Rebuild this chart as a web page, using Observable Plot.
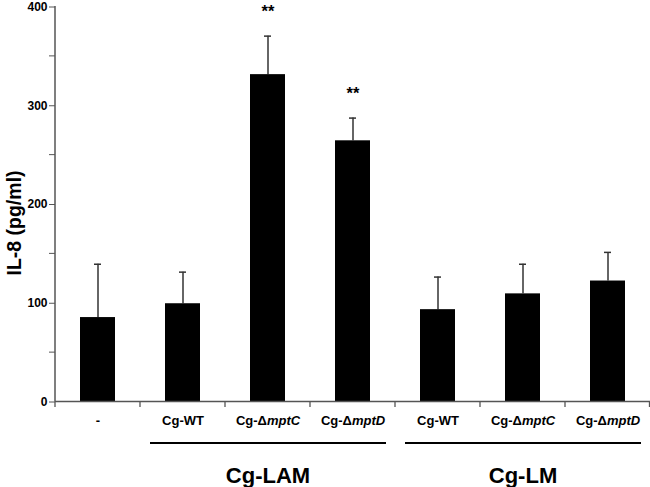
<!DOCTYPE html>
<html><head><meta charset="utf-8">
<script src="https://cdn.jsdelivr.net/npm/d3@7"></script>
<script src="https://cdn.jsdelivr.net/npm/@observablehq/plot@0.6"></script>
<style>body{margin:0;background:#fff}</style>
</head><body><div id="chart"></div>
<script>
// Categories (unique keys) and their tick labels
const keys = ["none", "LAM-WT", "LAM-C", "LAM-D", "LM-WT", "LM-C", "LM-D"];
const labelPlain = ["-", "Cg-WT", "Cg-\u0394", "Cg-\u0394", "Cg-WT", "Cg-\u0394", "Cg-\u0394"];
const labelItalic = ["", "", "mptC", "mptD", "", "mptC", "mptD"];
// IL-8 (pg/ml) means and upper error (SD)
const values = [85, 99, 331, 264, 93, 109, 122];
const errors = [54, 32, 39, 23, 33, 30, 29];
const stars = ["", "", "**", "**", "", "", ""];
// Group brackets
const groupNames = ["Cg-LAM", "Cg-LM"];
const groupFirst = ["LAM-WT", "LM-WT"];
const groupCenter = ["LAM-C", "LM-C"];
const groupLast = ["LAM-D", "LM-D"];
const yTicks = [0, 100, 200, 300, 400];
const yMinor = [50, 150, 250, 350];
const yLabel = "IL-8 (pg/ml)";

const data = keys.map((k, i) => ({key: k, value: values[i], err: errors[i], top: values[i] + errors[i], label: labelPlain[i] + labelItalic[i], star: stars[i]}));
const groups = groupNames.map((g, i) => ({name: g, center: groupCenter[i]}));

const chart = Plot.plot({
  width: 650, height: 487,
  marginLeft: 55, marginRight: 0, marginTop: 6, marginBottom: 86,
  style: {fontFamily: "'Liberation Sans', Arial, sans-serif", fontWeight: "bold", background: "#fff", overflow: "visible"},
  x: {domain: keys, padding: 0, axis: null},
  y: {domain: [0, 400], axis: null},
  marks: [
    Plot.axisY({ticks: yTicks, tickSize: 6, tickPadding: 2, fontSize: 12, label: null, stroke: "#555", dy: 0.5}),
    Plot.axisY({ticks: yMinor, tickSize: 6, tickFormat: () => "", label: null, stroke: "#555"}),
    Plot.ruleX(data, {x: "key", y1: "value", y2: "top", stroke: "#666", strokeWidth: 2}),
    Plot.tickY(data, {x: "key", y: "top", stroke: "#333", strokeWidth: 1.5, insetLeft: 39, insetRight: 39}),
    Plot.barY(data, {x: "key", y: "value", fill: "#000", insetLeft: 25, insetRight: 25}),
    Plot.ruleY([0], {stroke: "#555", strokeWidth: 1.5}),
    Plot.text(data, {x: "key", y: "top", text: "star", dy: -19.5, lineAnchor: "bottom", fontSize: 16.5}),
    Plot.text(data, {x: "key", text: "label", frameAnchor: "bottom", dy: 23, lineAnchor: "bottom", fontSize: 13}),
    Plot.text(groups, {x: "center", text: "name", frameAnchor: "bottom", dy: 81, lineAnchor: "bottom", fontSize: 22}),
    Plot.text([yLabel], {frameAnchor: "left", textAnchor: "middle", lineAnchor: "middle", dx: -41, dy: 19, rotate: -90, fontSize: 19.5})
  ]
});

// Extra axis furniture drawn from the plot's own scales
const svg = d3.select(chart);
const xs = chart.scale("x"), ys = chart.scale("y");
const bw = xs.bandwidth;
const x0 = xs.apply(keys[0]);
const y0 = ys.apply(0);
// y axis line
svg.append("line").attr("x1", x0).attr("x2", x0).attr("y1", ys.apply(400)).attr("y2", y0)
  .attr("stroke", "#555").attr("stroke-width", 1.5);
// x axis boundary ticks
for (let i = 0; i <= keys.length; i++) {
  const x = Math.min(x0 + i * bw, 649.5);
  svg.append("line").attr("x1", x).attr("x2", x).attr("y1", y0).attr("y2", y0 + 6)
    .attr("stroke", "#555").attr("stroke-width", 1.3);
}
// group underlines
groupNames.forEach((g, i) => {
  svg.append("line")
    .attr("x1", xs.apply(groupFirst[i]) + 10).attr("x2", xs.apply(groupLast[i]) + bw - 9)
    .attr("y1", y0 + 42).attr("y2", y0 + 42)
    .attr("stroke", "#000").attr("stroke-width", 2);
});
// italic gene names in tick labels
svg.selectAll("text").each(function () {
  const t = this.textContent;
  const i = data.findIndex((d, j) => d.label === t && labelItalic[j] !== "");
  if (i >= 0) {
    const el = d3.select(this);
    el.text(null);
    el.append("tspan").text(labelPlain[i]);
    el.append("tspan").attr("font-style", "italic").text(labelItalic[i]);
  }
});
document.getElementById("chart").appendChild(chart);
</script>
</body></html>
